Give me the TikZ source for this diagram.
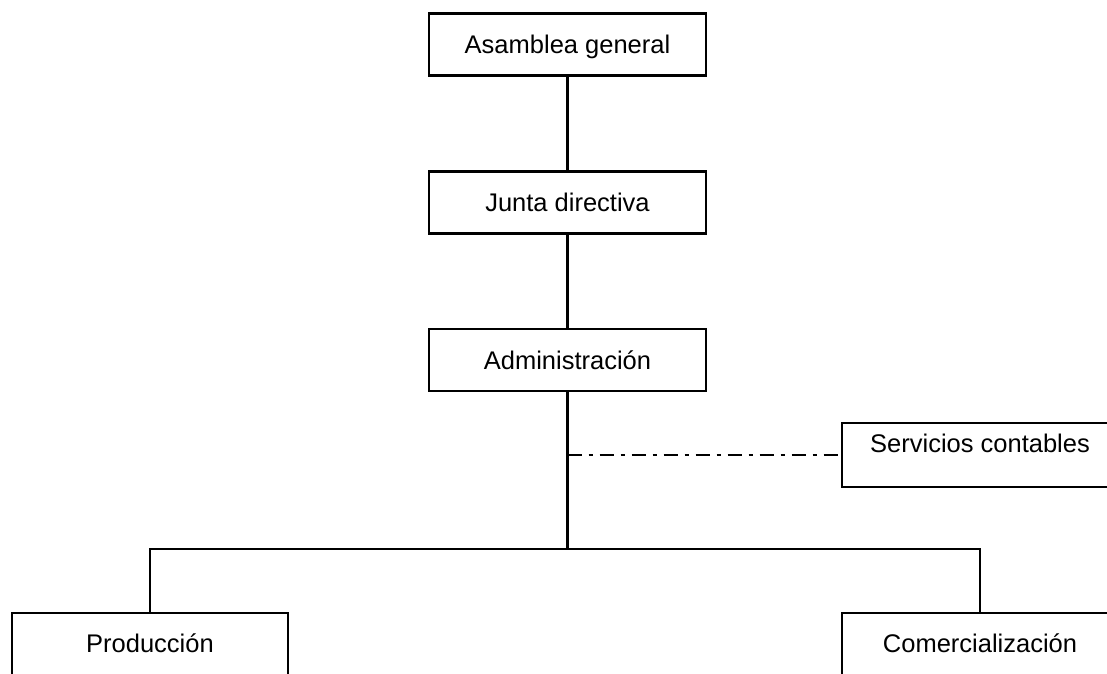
\documentclass[tikz,border=0pt]{standalone}
\usepackage{fontspec}
\setmainfont{Liberation Sans}
\begin{document}
\begin{tikzpicture}[x=1pt,y=-1pt,
  boxbase/.style={draw, rectangle, line width=2.6pt, inner sep=0pt,
    font=\fontsize{25.5}{30}\selectfont},
  topbox/.style={boxbase, minimum width=277pt, text height=40pt, text depth=22pt},
  sidebox/.style={boxbase, minimum width=276pt, text height=29pt, text depth=35pt},
  lowbox/.style={boxbase, minimum width=276pt, text height=39pt, text depth=35pt},
  conn/.style={line width=2.6pt},
  dashdotline/.style={line width=2.4pt, dash pattern=on 14pt off 7pt on 4pt off 7pt}]
\useasboundingbox (0,0) rectangle (1107,673);
\clip (0,0) rectangle (1107,673);
\fill[white] (0,0) rectangle (1107,673);
\node[topbox] (asam) at (567.5,44.5) {Asamblea general};
\node[topbox] (junta) at (567.5,202.5) {Junta directiva};
\node[topbox] (admin) at (567.5,360) {Administración};
\node[sidebox] (serv) at (980,455) {Servicios contables};
\node[lowbox] (prod) at (150,650) {Producción};
\node[lowbox] (com) at (980,650) {Comercialización};
\coordinate (junc) at (567.5,549);
\coordinate (tap) at (567.5,455);
\coordinate (lcorner) at (150,549);
\coordinate (rcorner) at (980,549);
\draw[conn] (asam) -- (junta);
\draw[conn] (junta) -- (admin);
\draw[conn] (admin) -- (junc);
\draw[conn] (prod.north) -- (lcorner) -- (rcorner) -- (com.north);
\draw[dashdotline] (tap) -- (serv.west);
\end{tikzpicture}
\end{document}
